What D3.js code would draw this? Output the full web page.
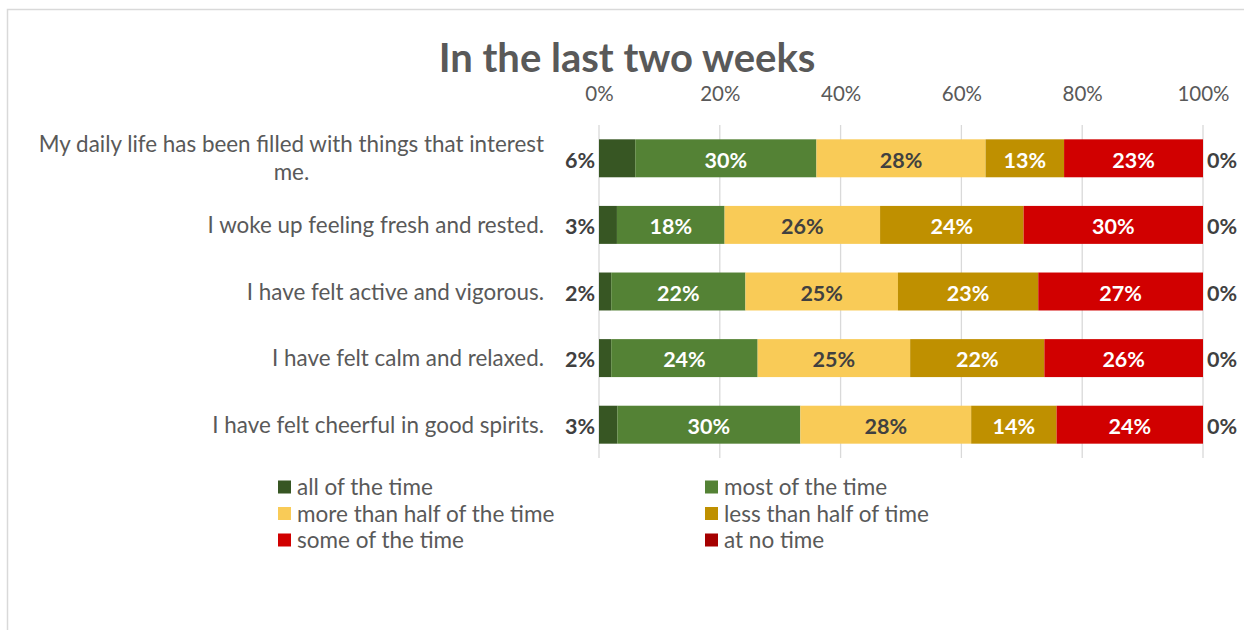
<!DOCTYPE html>
<html>
<head>
<meta charset="utf-8">
<script src="https://cdn.jsdelivr.net/npm/d3@7/dist/d3.min.js"></script>
<style>
  html, body { margin: 0; padding: 0; background: #fff; }
  svg { display: block; }
  text { font-family: Lato, "Open Sans", sans-serif; }
</style>
</head>
<body>
<svg id="chart" width="1244" height="630"></svg>
<script>
// Survey statements (one bar each), top to bottom
const categories = [
  "My daily life has been filled with things that interest me.",
  "I woke up feeling fresh and rested.",
  "I have felt active and vigorous.",
  "I have felt calm and relaxed.",
  "I have felt cheerful in good spirits."
];

// Response options, in stacking order
const seriesNames = [
  "all of the time",
  "most of the time",
  "more than half of the time",
  "less than half of time",
  "some of the time",
  "at no time"
];

// Percent of respondents per statement, one array per response option
const allOfTheTime      = [6, 3, 2, 2, 3];
const mostOfTheTime     = [30, 18, 22, 24, 30];
const moreThanHalf      = [28, 26, 25, 25, 28];
const lessThanHalf      = [13, 24, 23, 22, 14];
const someOfTheTime     = [23, 30, 27, 26, 24];
const atNoTime          = [0, 0, 0, 0, 0];

const xTicks = [0, 0.2, 0.4, 0.6, 0.8, 1.0];

const seriesValues = [allOfTheTime, mostOfTheTime, moreThanHalf, lessThanHalf, someOfTheTime, atNoTime];
const colors = ["#375623", "#548235", "#F9CB57", "#BF9000", "#D10000", "#A50000"];
const labelColors = ["#404040", "#ffffff", "#404040", "#ffffff", "#ffffff", "#404040"];

// Rows for d3.stack, normalised per statement (100% stacked bars)
const rows = categories.map((c, i) => {
  const r = { category: c };
  seriesNames.forEach((s, j) => { r[s] = seriesValues[j][i]; });
  return r;
});

const stack = d3.stack().keys(seriesNames).offset(d3.stackOffsetExpand);
const stacked = stack(rows);

const svg = d3.select("#chart");

// Chart frame
svg.append("rect")
  .attr("x", 7.5).attr("y", 9.5)
  .attr("width", 1260).attr("height", 640)
  .attr("fill", "#fff").attr("stroke", "#d9d9d9").attr("stroke-width", 1.5);

const x = d3.scaleLinear().domain([0, 1]).range([599, 1203]);
const y = d3.scaleBand().domain(categories).range([125, 458])
  .paddingInner(0.43).paddingOuter(0.215);

// Title
svg.append("text")
  .attr("x", 627).attr("y", 72)
  .attr("text-anchor", "middle")
  .attr("font-size", 40).attr("font-weight", 700)
  .attr("fill", "#595959")
  .text("In the last two weeks");

// Gridlines
svg.append("g").selectAll("line").data(xTicks).join("line")
  .attr("x1", d => x(d)).attr("x2", d => x(d))
  .attr("y1", 125).attr("y2", 458)
  .attr("stroke", "#d9d9d9").attr("stroke-width", 1.3);

// Top axis
const axis = svg.append("g")
  .attr("transform", "translate(0,101)")
  .call(d3.axisTop(x).tickValues(xTicks).tickFormat(d3.format(".0%")).tickSize(0).tickPadding(0));
axis.select(".domain").remove();
axis.selectAll("text")
  .attr("font-size", 20.5).attr("fill", "#595959")
  .attr("font-family", "Lato, sans-serif")
  .attr("dy", "0");

// Bars
const layers = svg.append("g").selectAll("g").data(stacked).join("g")
  .attr("fill", (d, i) => colors[i]);

layers.selectAll("rect").data(d => d).join("rect")
  .attr("x", d => x(d[0]))
  .attr("width", d => x(d[1]) - x(d[0]))
  .attr("y", d => y(d.data.category))
  .attr("height", y.bandwidth());

// Value labels
const labelG = svg.append("g");
stacked.forEach((layer, li) => {
  labelG.selectAll(null).data(layer).join("text")
    .attr("x", d => {
      if (li === 0) return x(d[0]) - 4;
      if (li === seriesNames.length - 1) return x(d[1]) + 4;
      return (x(d[0]) + x(d[1])) / 2;
    })
    .attr("y", d => y(d.data.category) + y.bandwidth() / 2 + 1.5)
    .attr("dy", "0.36em")
    .attr("text-anchor", li === 0 ? "end" : (li === seriesNames.length - 1 ? "start" : "middle"))
    .attr("font-size", 21.5).attr("font-weight", 700)
    .attr("fill", labelColors[li])
    .text(d => d.data[layer.key] + "%");
});

// Category labels, wrapped to fit the left margin
const catFont = 22.4;
const catG = svg.append("g");
const maxWidth = 515;
categories.forEach(c => {
  const cy = y(c) + y.bandwidth() / 2;
  const t = catG.append("text")
    .attr("font-size", catFont).attr("fill", "#595959")
    .attr("text-anchor", "middle");
  const words = c.split(" ");
  const lines = [];
  let line = [];
  const probe = catG.append("text").attr("font-size", catFont);
  words.forEach(w => {
    line.push(w);
    probe.text(line.join(" "));
    if (probe.node().getComputedTextLength() > maxWidth && line.length > 1) {
      line.pop();
      lines.push(line.join(" "));
      line = [w];
    }
  });
  lines.push(line.join(" "));
  // width of the widest line decides where the centred block sits
  let widest = 0;
  lines.forEach(l => { probe.text(l); widest = Math.max(widest, probe.node().getComputedTextLength()); });
  probe.remove();
  const lh = 28;
  const cx = 544 - widest / 2;
  lines.forEach((l, k) => {
    t.append("tspan")
      .attr("x", cx)
      .attr("y", cy + (k - (lines.length - 1) / 2) * lh)
      .attr("dy", "0.36em")
      .text(l);
  });
});

// Legend, two columns
const legend = svg.append("g");
const colX = [278, 705];
seriesNames.forEach((s, i) => {
  const gx = colX[i % 2];
  const gy = 487 + Math.floor(i / 2) * 26.5;
  legend.append("rect")
    .attr("x", gx).attr("y", gy - 6.5)
    .attr("width", 13).attr("height", 13)
    .attr("fill", colors[i]);
  legend.append("text")
    .attr("x", gx + 19).attr("y", gy)
    .attr("dy", "0.36em")
    .attr("font-size", 22.5).attr("fill", "#595959")
    .text(s);
});
</script>
</body>
</html>
